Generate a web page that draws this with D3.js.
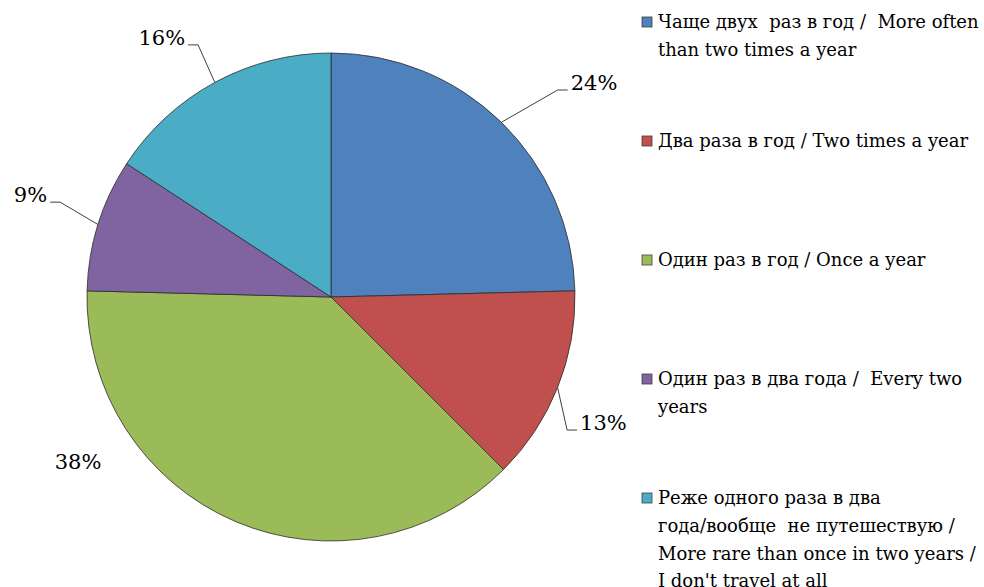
<!DOCTYPE html>
<html>
<head>
<meta charset="utf-8">
<script src="https://cdn.jsdelivr.net/npm/d3@7"></script>
<style>
  body { margin: 0; background: #fff; }
</style>
</head>
<body>
<div id="wrapper"></div>
<script>
// data (slice sizes, labels as printed)
const categories = [
    "Чаще двух  раз в год /  More often than two times a year",
    "Два раза в год / Two times a year",
    "Один раз в год / Once a year",
    "Один раз в два года /  Every two years",
    "Реже одного раза в два года/вообще  не путешествую / More rare than once in two years / I don't travel at all"
]
const values = [24.6, 12.9, 37.9, 8.8, 15.8]
const labelText = ["24%", "13%", "38%", "9%", "16%"]
const colors = ["#4F81BD", "#C0504D", "#9BBB59", "#8064A2", "#4BACC6"]
// how the legend text wraps in the original
const legendLines = [
    ["Чаще двух  раз в год /  More often", "than two times a year"],
    ["Два раза в год / Two times a year"],
    ["Один раз в год / Once a year"],
    ["Один раз в два года /  Every two", "years"],
    ["Реже одного раза в два", "года/вообще  не путешествую /", "More rare than once in two years /", "I don't travel at all"]
]

const width = 984, height = 587
const cx = 331, cy = 297, radius = 244
const font = "DejaVu Serif"

const svg = d3.select("#wrapper")
    .append("svg")
        .attr("width", width)
        .attr("height", height)

const pie = d3.pie().sort(null).value(d => d)
const arcs = pie(values)
const arc = d3.arc().innerRadius(0).outerRadius(radius)

const bounds = svg.append("g")
    .attr("transform", `translate(${cx},${cy})`)

bounds.selectAll(".slice")
    .data(arcs)
    .join("path")
    .attr("class", "slice")
    .attr("d", arc)
    .attr("fill", (d, i) => colors[i])
    .attr("stroke", "#2b2b2b")
    .attr("stroke-width", 0.8)

// label placement (Excel "best fit"): angle in degrees from 12 o'clock, radius, side
const labelLayout = [
    { ang: 47.6, r: 307, side: 1, line: true },
    { ang: 119.4, r: 271, side: 1, line: true },
    { ang: 236.9, r: 302, side: 0, line: false },
    { ang: 289.3, r: 287, side: -1, line: true },
    { ang: 332.2, r: 285, side: -1, line: true }
]
const polar = (deg, r) => {
    const a = deg * Math.PI / 180
    return [r * Math.sin(a), -r * Math.cos(a)]
}

const labels = bounds.append("g")
arcs.forEach((d, i) => {
    const lay = labelLayout[i]
    const mid = (d.startAngle + d.endAngle) / 2
    const start = polar(mid * 180 / Math.PI, radius)
    const elbow = polar(lay.ang, lay.r)
    let t
    if (lay.line) {
        const end = [elbow[0] + lay.side * 10, elbow[1]]
        labels.append("path")
            .attr("d", d3.line()([start, elbow, end]))
            .attr("fill", "none")
            .attr("stroke", "#404040")
            .attr("stroke-width", 1)
        t = labels.append("text")
            .attr("x", end[0] + lay.side * 3)
            .attr("y", end[1])
            .attr("text-anchor", lay.side > 0 ? "start" : "end")
    } else {
        t = labels.append("text")
            .attr("x", elbow[0])
            .attr("y", elbow[1])
            .attr("dy", "0.35em")
            .attr("text-anchor", "middle")
    }
    t.attr("font-family", font)
        .attr("font-size", 21)
        .attr("fill", "#000")
        .text(labelText[i])
})

// legend
const legendY = d3.scalePoint()
    .domain(d3.range(categories.length))
    .range([22, 498])

const legend = svg.append("g")
    .attr("transform", "translate(642,0)")

const items = legend.selectAll(".item")
    .data(categories)
    .join("g")
    .attr("class", "item")
    .attr("transform", (d, i) => `translate(0,${legendY(i)})`)

items.append("rect")
    .attr("x", 0)
    .attr("y", -5)
    .attr("width", 10)
    .attr("height", 10)
    .attr("fill", (d, i) => colors[i])
    .attr("stroke", "#404040")
    .attr("stroke-width", 0.8)

items.append("text")
    .attr("font-family", font)
    .attr("font-size", 18)
    .attr("fill", "#000")
    .selectAll("tspan")
    .data((d, i) => legendLines[i])
    .join("tspan")
    .attr("x", 16)
    .attr("y", (d, j) => j * 27.6)
    .attr("dy", "0.35em")
    .style("white-space", "pre")
    .text(d => d)
</script>
</body>
</html>
